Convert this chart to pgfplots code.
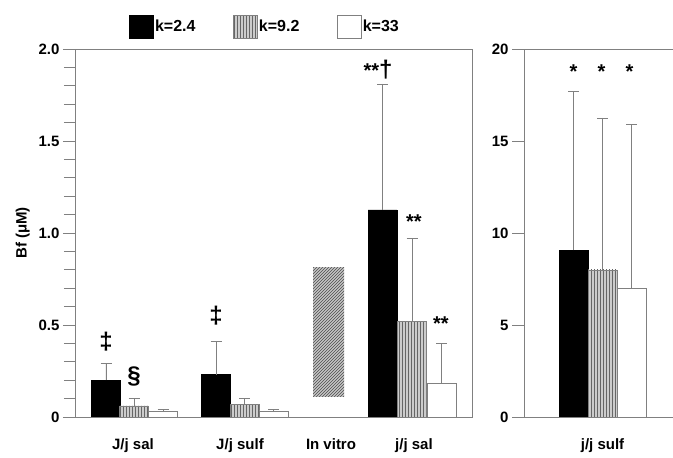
\documentclass[border=0pt]{standalone}
\usepackage{fontspec}
\setmainfont{Liberation Sans}
\usepackage{pgfplots}
\pgfplotsset{compat=1.18}
\usepackage{pgfplotstable}
\usetikzlibrary{patterns}

\pgfplotstableread{
x y e
106 0.20 0.09
216 0.23 0.18
382.5 1.125 0.685
}\blackL
\pgfplotstableread{
x y e
134 0.06 0.04
244.5 0.07 0.03
412 0.52 0.45
}\hatchL
\pgfplotstableread{
x y e
163 0.033 0.01
273.5 0.033 0.01
441.5 0.185 0.215
}\whiteL
\pgfplotstableread{
x y e
573.5 9.07 8.63
}\blackR
\pgfplotstableread{
x y e
602.5 8.0 8.25
}\hatchR
\pgfplotstableread{
x y e
631.5 7.0 8.9
}\whiteR

\newcommand{\lbl}{\bfseries\fontsize{15}{18}\selectfont}
\newcommand{\ann}{\bfseries\fontsize{24}{26}\selectfont}
\newcommand{\astf}{\bfseries\fontsize{20}{22}\selectfont}

\tikzset{
  sblack/.style={fill=black, draw=black},
  shatch/.style={fill=gray!40, draw=gray, postaction={pattern=vertical lines, pattern color=black!60}},
  swhite/.style={fill=white, draw=gray},
}

\pgfplotsset{
  myax/.style={
    scale only axis, anchor=south west,
    axis line style={gray, line width=0.9pt},
    tick align=outside, ytick pos=left,
    major tick length=12pt, minor tick length=11pt,
    ytick style={gray, line width=0.9pt},
    xtick style={draw=none},
    tick label style={font=\lbl},
    /pgf/number format/assume math mode=true,
    ymin=0, height=368pt,
    x tick label style={yshift=-6pt},
  },
  barerr/.style={
    ybar, bar shift=0pt,
    error bars/y dir=plus, error bars/y explicit,
    error bars/error bar style={gray, line width=0.9pt},
    error bars/error mark options={rotate=90, mark size=5.5pt, gray, line width=0.9pt},
  },
}

\begin{document}
\begin{tikzpicture}
\path[use as bounding box] (0,0) rectangle (673pt,458pt);

\begin{axis}[myax,
  at={(75pt,41pt)}, width=397pt,
  xmin=75, xmax=472, ymax=2.0,
  ytick={0,0.5,1.0,1.5,2.0},
  yticklabels={0,0.5,1.0,1.5,2.0},
  minor ytick={0.1,0.2,...,1.95},
  xtick={133,240,331,414},
  xticklabels={J/j sal, J/j sulf, In vitro, j/j sal},
  ylabel={Bf (μM)},
  ylabel style={font=\lbl, xshift=0pt, yshift=2pt},
  bar width=28.7,
  legend columns=3,
  legend style={at={(0.478,1.06)}, anchor=center, draw=none, fill=none,
    font=\bfseries\fontsize{16}{18}\selectfont, inner sep=0pt,
    /tikz/every even column/.append style={column sep=36pt},
    nodes={inner xsep=1.5pt}},
]
\addplot[barerr, sblack, legend image code/.code={\draw[sblack] (0pt,-11.5pt) rectangle (24pt,11.5pt);}]
  table[x=x, y=y, y error=e] {\blackL};
\addlegendentry{k=2.4}
\addplot[barerr, shatch, legend image code/.code={\draw[shatch] (0pt,-11.5pt) rectangle (24pt,11.5pt);}]
  table[x=x, y=y, y error=e] {\hatchL};
\addlegendentry{k=9.2}
\addplot[barerr, swhite, legend image code/.code={\draw[swhite] (0pt,-11.5pt) rectangle (24pt,11.5pt);}]
  table[x=x, y=y, y error=e] {\whiteL};
\addlegendentry{k=33}
\addplot[fill=gray!45, draw=none, postaction={pattern=north east lines, pattern color=gray!60!black}, forget plot]
  coordinates {(313,0.11) (344,0.11) (344,0.815) (313,0.815) (313,0.11)};

\node[font=\ann] at (axis cs:106,0.41) {‡};
\node[font=\ann] at (axis cs:134,0.22) {§};
\node[font=\ann] at (axis cs:216,0.55) {‡};
\node[font=\ann] at (axis cs:378,1.886) {\astf**\ann†};
\node[font=\astf] at (axis cs:414,1.06) {**};
\node[font=\astf] at (axis cs:441,0.505) {**};
\end{axis}

\begin{axis}[myax,
  at={(524pt,41pt)}, width=158pt,
  xmin=524, xmax=682, ymax=20,
  ytick={0,5,10,15,20},
  yticklabels={0,5,10,15,20},
  xtick={602.5},
  xticklabels={j/j sulf},
  bar width=28.7,
]
\addplot[barerr, sblack] table[x=x, y=y, y error=e] {\blackR};
\addplot[barerr, shatch] table[x=x, y=y, y error=e] {\hatchR};
\addplot[barerr, swhite] table[x=x, y=y, y error=e] {\whiteR};
\node[font=\astf] at (axis cs:573.5,18.75) {*};
\node[font=\astf] at (axis cs:601.5,18.75) {*};
\node[font=\astf] at (axis cs:629.5,18.75) {*};
\end{axis}
\end{tikzpicture}
\end{document}
